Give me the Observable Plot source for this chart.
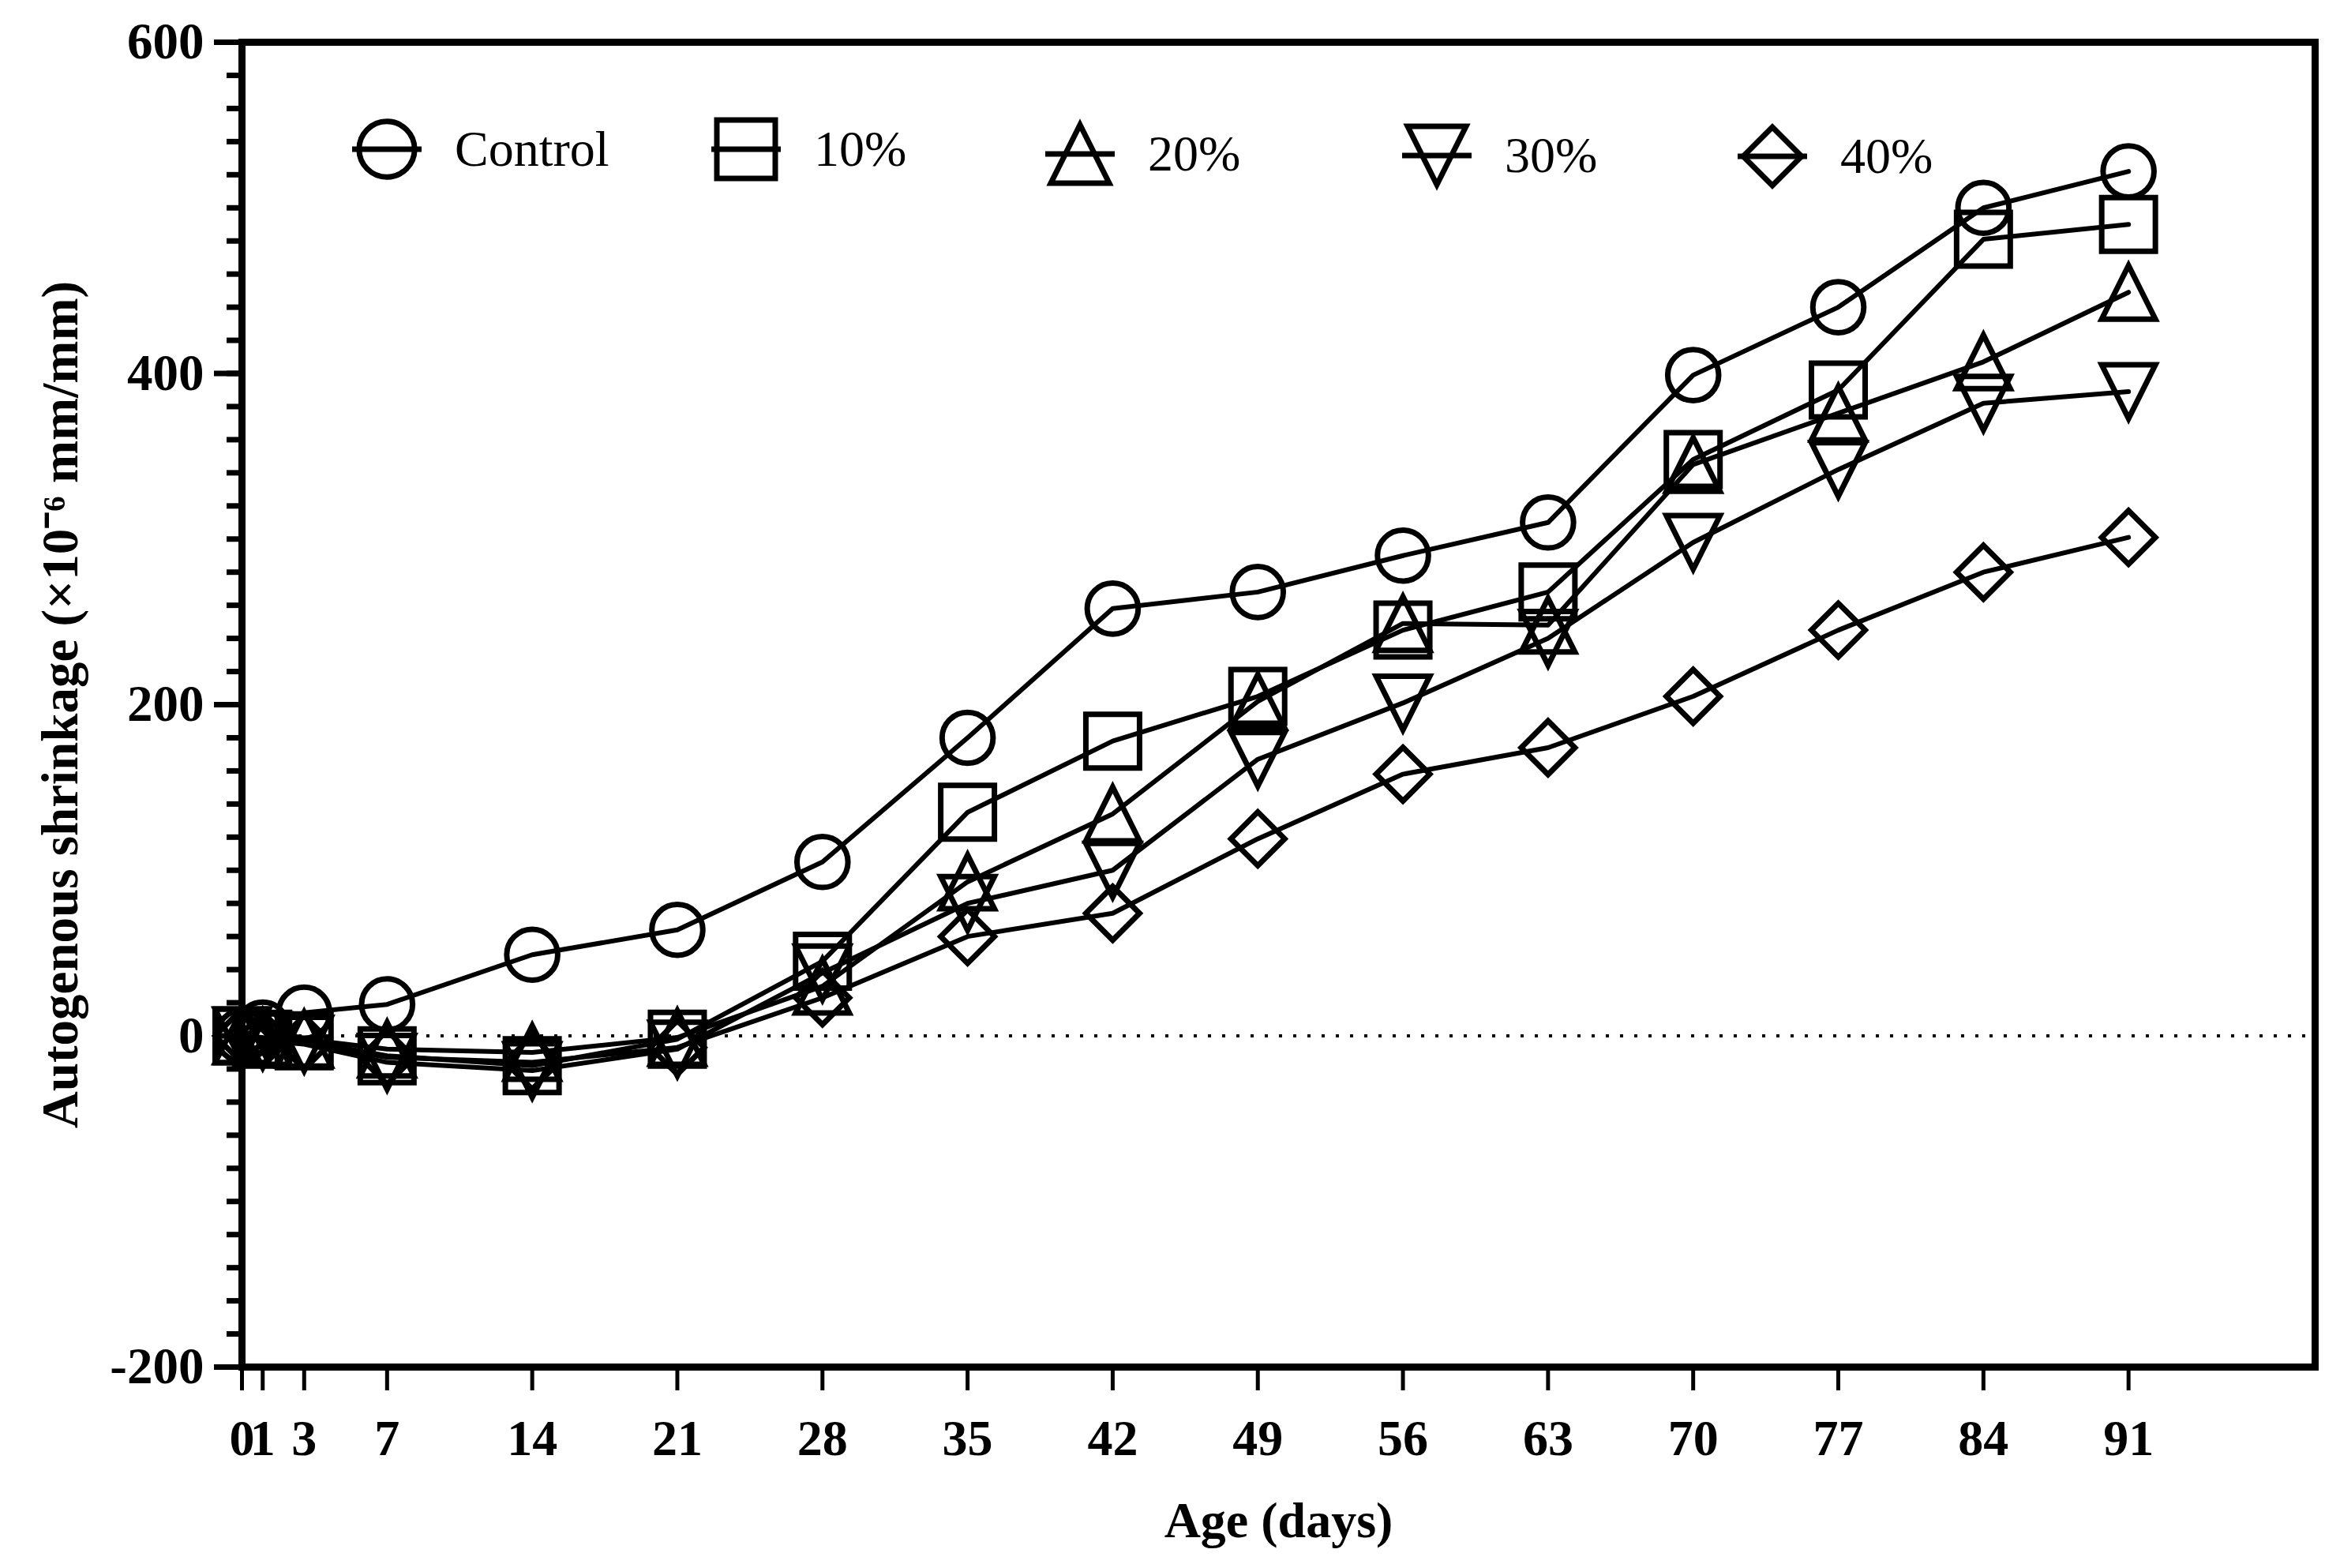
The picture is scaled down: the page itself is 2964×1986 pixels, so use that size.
<!DOCTYPE html>
<html>
<head>
<meta charset="utf-8">
<script src="https://cdn.jsdelivr.net/npm/d3@7"></script>
<script src="https://cdn.jsdelivr.net/npm/@observablehq/plot@0.6"></script>
<style>
  html, body { margin: 0; padding: 0; background: #fff; }
  #wrap { position: relative; width: 2964px; height: 1986px; }
  .legtext { position: absolute; font-family: "Liberation Serif", "Times New Roman", serif; font-size: 64px; line-height: 1; color: #000; transform: translateY(-50%); white-space: nowrap; }
  .legsym { position: absolute; overflow: visible; }
</style>
</head>
<body>
<div id="wrap"></div>
<script>
// ---- data ----
const days = [0, 1, 3, 7, 14, 21, 28, 35, 42, 49, 56, 63, 70, 77, 84, 91];
const seriesNames = ["Control", "10%", "20%", "30%", "40%"];
const control = [0, 5, 14, 19, 49, 64, 105, 180, 258, 268, 290, 310, 399, 440, 500, 522];
const p10 = [0, -2, -3, -12, -18, -2, 45, 135, 178, 205, 245, 268, 348, 390, 481, 490];
const p20 = [0, -1, -2, -8, -10, -1, 30, 93, 134, 202, 249, 248, 345, 376, 407, 449];
const p30 = [0, -3, -5, -16, -21, -8, 38, 80, 100, 167, 201, 240, 298, 342, 382, 389];
const p40 = [0, -2, -4, -13, -16, -7, 23, 60, 74, 119, 158, 174, 205, 245, 280, 301];
const yMajorTicks = [-200, 0, 200, 400, 600];
const symbolKinds = ["circle", "square", "triangle", "triangle-down", "diamond"];

const allSeries = [control, p10, p20, p30, p40];
const table = [];
seriesNames.forEach((name, i) => {
  days.forEach((d, j) => table.push({series: name, day: d, value: allSeries[i][j]}));
});

// custom symbols (bounding box 2r x 2r)
function drawKind(kind, ctx, r) {
  switch (kind) {
    case "circle": ctx.moveTo(r * 0.95, 0); ctx.arc(0, 0, r * 0.95, 0, 2 * Math.PI); break;
    case "square": ctx.rect(-r, -r, 2 * r, 2 * r); break;
    case "triangle": ctx.moveTo(0, -r); ctx.lineTo(r, r); ctx.lineTo(-r, r); ctx.closePath(); break;
    case "triangle-down": ctx.moveTo(0, r); ctx.lineTo(r, -r); ctx.lineTo(-r, -r); ctx.closePath(); break;
    case "diamond": ctx.moveTo(0, -r); ctx.lineTo(r, 0); ctx.lineTo(0, r); ctx.lineTo(-r, 0); ctx.closePath(); break;
  }
}
const symbolObjs = symbolKinds.map(k => ({draw(ctx, size) { drawKind(k, ctx, Math.sqrt(size / Math.PI)); }}));

const W = 2964, H = 1986;
const mL = 306, mR = 32, mT = 53, mB = 255;

const chart = Plot.plot({
  width: W,
  height: H,
  marginLeft: mL,
  marginRight: mR,
  marginTop: mT,
  marginBottom: mB,
  style: {fontFamily: "'Liberation Serif', 'Times New Roman', serif", background: "#fff", color: "#000", overflow: "visible"},
  x: {domain: [0, 100]},
  y: {domain: [-200, 600]},
  symbol: {domain: seriesNames, range: symbolObjs},
  marks: [
    Plot.ruleY([0], {stroke: "#000", strokeWidth: 4, strokeDasharray: "4,14"}),
    Plot.line(table, {x: "day", y: "value", z: "series", stroke: "#000", strokeWidth: 6}),
    Plot.dot(table, {x: "day", y: "value", symbol: "series", r: 34, stroke: "#000", fill: "none", strokeWidth: 7}),
    Plot.axisY({ticks: d3.range(-200, 601, 20), tickSize: 19, strokeWidth: 7, tickFormat: () => "", label: null}),
    Plot.axisY({ticks: yMajorTicks, tickSize: 35, tickPadding: 13, strokeWidth: 7, fontSize: 65, fontWeight: "bold",
      tickFormat: d => String(d),
      label: "Autogenous shrinkage (×10⁻⁶ mm/mm)", labelAnchor: "center", labelArrow: "none", labelOffset: 255}),
    Plot.axisX({ticks: days, tickSize: 30, tickPadding: 36, strokeWidth: 5, fontSize: 64, fontWeight: "bold",
      tickFormat: d => String(d),
      label: "Age (days)", labelAnchor: "center", labelArrow: "none", labelOffset: 215}),
    Plot.frame({stroke: "#000", strokeWidth: 9})
  ]
});

const wrap = document.getElementById("wrap");
wrap.appendChild(chart);

// ---- legend (HTML overlay inside the plot frame) ----
const legendX = [490, 945, 1368, 1820, 2245];
const legendY = [189, 189, 195, 197, 198];
const ns = "http://www.w3.org/2000/svg";
seriesNames.forEach((name, i) => {
  const cx = legendX[i], cy = legendY[i];
  const s = document.createElementNS(ns, "svg");
  s.setAttribute("class", "legsym");
  s.setAttribute("width", 120);
  s.setAttribute("height", 100);
  s.style.left = (cx - 60) + "px";
  s.style.top = (cy - 50) + "px";
  const line = document.createElementNS(ns, "line");
  line.setAttribute("x1", 60 - 44); line.setAttribute("x2", 60 + 44);
  line.setAttribute("y1", 50); line.setAttribute("y2", 50);
  line.setAttribute("stroke", "#000"); line.setAttribute("stroke-width", 7);
  s.appendChild(line);
  const p = d3.path();
  drawKind(symbolKinds[i], p, 37);
  const path = document.createElementNS(ns, "path");
  path.setAttribute("d", p.toString());
  path.setAttribute("transform", "translate(60,50)");
  path.setAttribute("fill", "none");
  path.setAttribute("stroke", "#000");
  path.setAttribute("stroke-width", 7);
  s.appendChild(path);
  wrap.appendChild(s);
  const t = document.createElement("div");
  t.className = "legtext";
  t.textContent = name;
  t.style.left = (cx + 86) + "px";
  t.style.top = cy + "px";
  wrap.appendChild(t);
});
</script>
</body>
</html>
